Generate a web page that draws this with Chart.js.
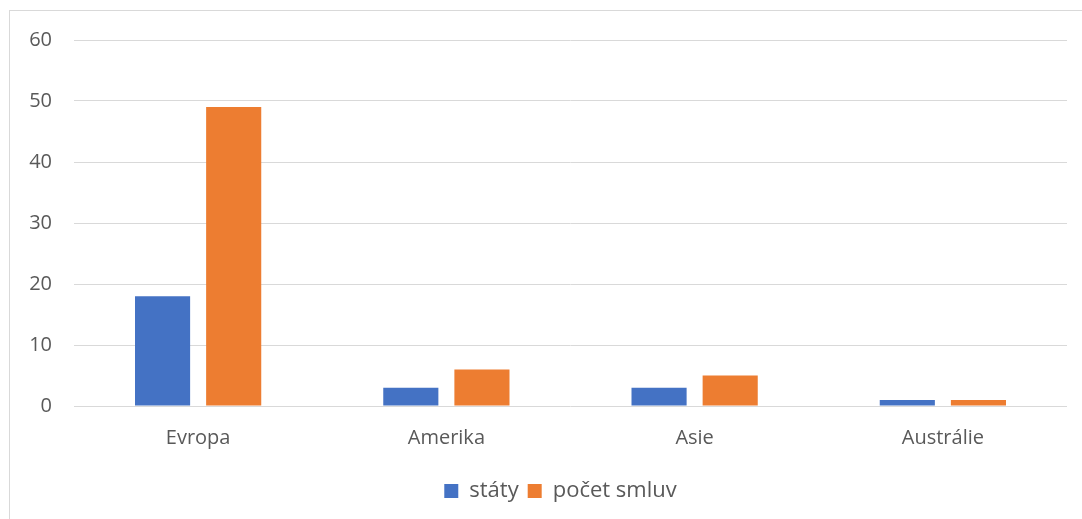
<!DOCTYPE html>
<html lang="cs">
<head>
  <meta charset="UTF-8">
  <title>Státy a počet smluv</title>
  <script src="https://cdn.jsdelivr.net/npm/chart.js"></script>
  <style>
    html, body { margin: 0; padding: 0; background: #fff; overflow: hidden; }
    .frame {
      position: absolute; left: 9px; top: 10px;
      width: 1100px; height: 540px;
      border: 1px solid #d9d9d9; box-sizing: border-box;
    }
    .wrap { position: absolute; left: 0; top: 0; width: 1082px; height: 519px; }
  </style>
</head>
<body>
  <div class="frame"></div>
  <div class="wrap">
    <canvas id="chart" width="1082" height="519"></canvas>
  </div>

  <script>
    // data
    const kontinenty = ['Evropa', 'Amerika', 'Asie', 'Austrálie'];
    const staty = [18, 3, 3, 1];
    const pocetSmluv = [49, 6, 5, 1];

    const yMin = 0;
    const yMax = 60;
    const yStep = 10;

    const textColor = '#595959';
    const font = { family: "'Open Sans', sans-serif", size: 20 };
    const legendFont = { family: "'Open Sans', sans-serif", size: 22 };

    // legend in the original sits a bit right of centre
    const legendShift = {
      id: 'legendShift',
      afterLayout(chart) {
        chart.legend.left += 27;
        chart.legend.right += 27;
      }
    };

    new Chart(document.getElementById('chart'), {
      type: 'bar',
      data: {
        labels: kontinenty,
        datasets: [
          {
            label: 'státy',
            data: staty,
            backgroundColor: '#4472C4',
            categoryPercentage: 0.573,
            barPercentage: 0.775
          },
          {
            label: 'počet smluv',
            data: pocetSmluv,
            backgroundColor: '#ED7D31',
            categoryPercentage: 0.573,
            barPercentage: 0.775
          }
        ]
      },
      options: {
        responsive: false,
        animation: false,
        layout: { padding: { left: 0, right: 15, top: 40, bottom: 7 } },
        scales: {
          x: {
            grid: { display: false, drawTicks: false },
            border: { display: false },
            ticks: { color: textColor, font: font, padding: 20 },
            afterFit: (scale) => { scale.height = 65; }
          },
          y: {
            min: yMin,
            max: yMax,
            ticks: { stepSize: yStep, color: textColor, font: font, padding: 22 },
            grid: { color: '#d9d9d9', lineWidth: 1, drawTicks: false },
            border: { display: false },
            afterFit: (scale) => { scale.width = 74; }
          }
        },
        plugins: {
          legend: {
            position: 'bottom',
            labels: {
              color: textColor,
              font: legendFont,
              boxWidth: 14,
              boxHeight: 14,
              padding: 9
            }
          },
          tooltip: { enabled: false }
        }
      },
      plugins: [legendShift]
    });
  </script>
</body>
</html>
